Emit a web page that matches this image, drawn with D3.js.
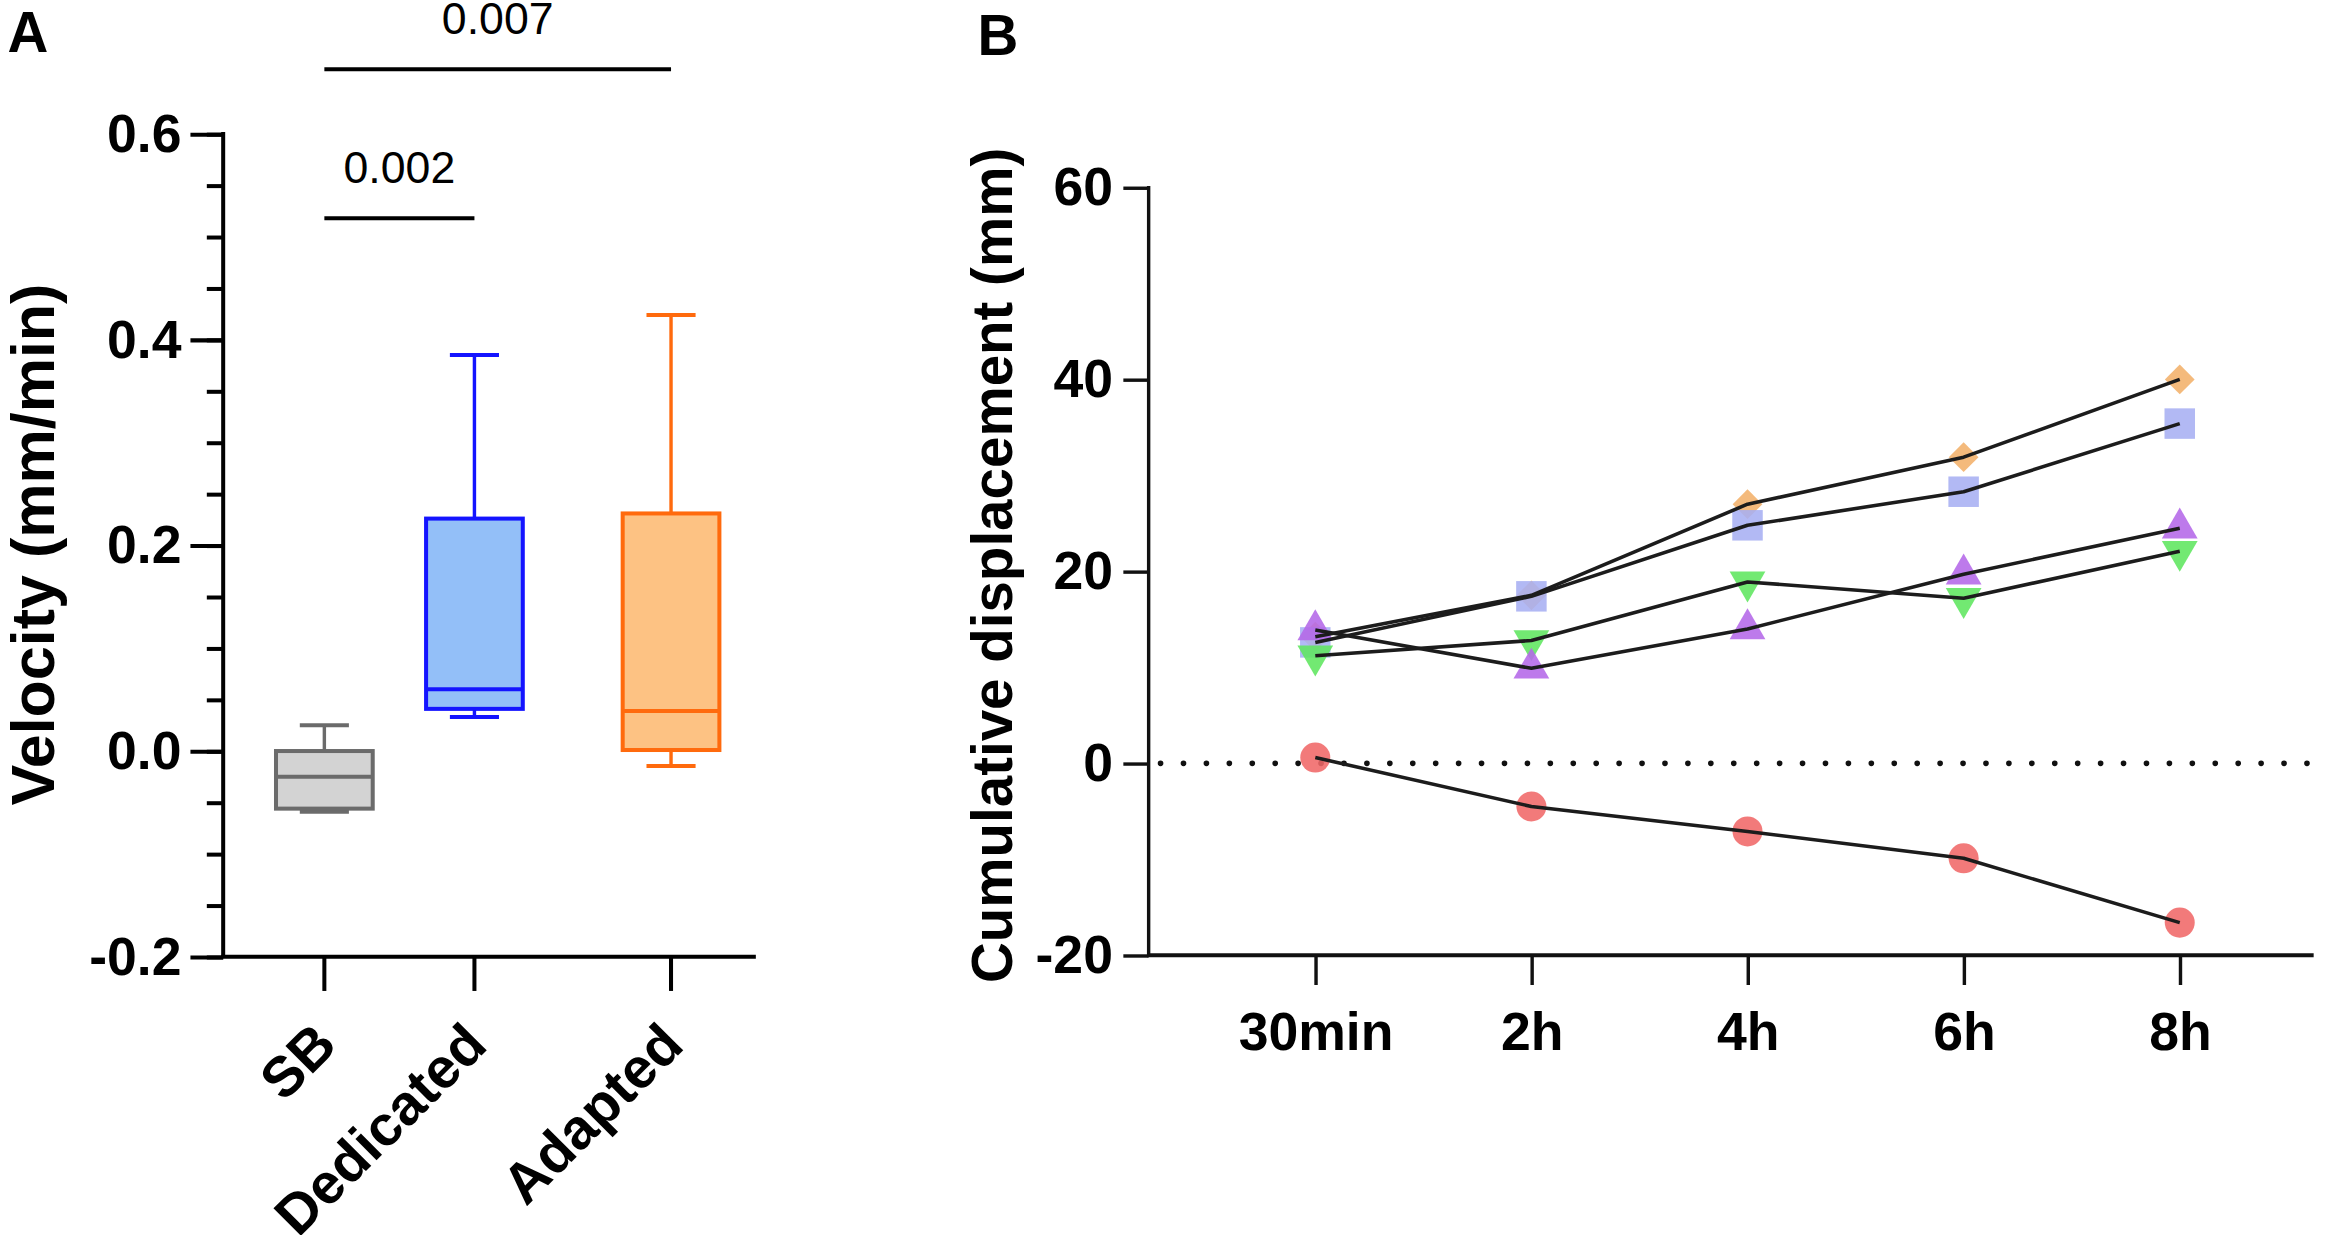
<!DOCTYPE html>
<html>
<head>
<meta charset="utf-8">
<script src="https://cdn.jsdelivr.net/npm/d3@7/dist/d3.min.js"></script>
<style>
  html, body { margin: 0; padding: 0; background: #ffffff; }
  svg { display: block; }
  text { font-family: "Liberation Sans", Arial, Helvetica, sans-serif; }
</style>
</head>
<body>
<svg id="chart" width="2333" height="1235" viewBox="0 0 1568 830"></svg>
<script>
// ---------- Panel A data (box plots) ----------
const boxCategories = ["SB", "Dedicated", "Adapted"];
const boxMin    = [-0.059, 0.033, -0.0145];
const boxQ1     = [-0.056, 0.041,  0.001];
const boxMedian = [-0.025, 0.060,  0.039];
const boxQ3     = [ 0.000, 0.226,  0.231];
const boxMax    = [ 0.025, 0.385,  0.424];
const boxFill   = ["#d3d3d3", "#93bff8", "#fdc283"];
const boxStroke = ["#6b6b6b", "#1414ff", "#ff6a0d"];
const velocityTicks = [-0.2, 0.0, 0.2, 0.4, 0.6];
const velocityMinorTicks = d3.range(-0.2, 0.6001, 0.05);

// significance comparisons
const sigFrom   = ["SB", "SB"];
const sigTo     = ["Dedicated", "Adapted"];
const sigLabel  = ["0.002", "0.007"];
const sigLevel  = [0.518, 0.663];

// ---------- Panel B data (cumulative displacement) ----------
const timePoints = ["30min", "2h", "4h", "6h", "8h"];
const seriesOrange = [13.2, 17.5, 27.0, 31.9, 40.0];
const seriesBlue   = [12.6, 17.4, 24.8, 28.3, 35.4];
const seriesGreen  = [11.2, 12.8, 18.9, 17.2, 22.1];
const seriesPurple = [13.9,  9.9, 14.0, 19.7, 24.5];
const seriesRed    = [ 0.6, -4.5, -7.1, -9.9, -16.6];
const displacementTicks = [-20, 0, 20, 40, 60];

const svg = d3.select("#chart");
const FONT = "'Liberation Sans', Arial, Helvetica, sans-serif";

// ===================== PANEL A =====================
const A = svg.append("g");
A.append("text").attr("x", 5).attr("y", 35).attr("font-size", 38)
  .attr("font-weight", "bold").text("A");

const yA = d3.scaleLinear().domain([-0.2, 0.6]).range([643, 90]);
// uneven category slots as in the original layout
const catSlot = d3.scaleOrdinal().domain(boxCategories).range([0, 1, 2.31]);
const slotX = d3.scaleLinear().domain([0, 2.31]).range([218, 451]);
const xA = c => slotX(catSlot(c));
const boxW = 65, capW = 33;

// minor ticks
A.append("g").attr("transform", "translate(150,0)")
  .call(d3.axisLeft(yA).tickValues(velocityMinorTicks).tickSize(11).tickFormat(""))
  .call(g => g.select(".domain").remove())
  .call(g => g.selectAll("line").attr("stroke", "#000").attr("stroke-width", 2.7));
// major ticks
A.append("g").attr("transform", "translate(150,0)")
  .call(d3.axisLeft(yA).tickValues(velocityTicks).tickSize(22).tickPadding(6)
    .tickFormat(d => d.toFixed(1)))
  .call(g => g.select(".domain").remove())
  .call(g => g.selectAll("line").attr("stroke", "#000").attr("stroke-width", 2.7))
  .call(g => g.selectAll("text").attr("font-size", 36).attr("font-weight", "bold")
    .attr("font-family", FONT).attr("fill", "#000"));
// y axis line
A.append("line").attr("x1", 150).attr("x2", 150).attr("y1", yA(0.6) - 1.3).attr("y2", yA(-0.2))
  .attr("stroke", "#000").attr("stroke-width", 2.7);

// x axis
const xAxisA = A.append("g").attr("transform", `translate(0,${yA(-0.2)})`);
xAxisA.append("line").attr("x1", 148.7).attr("x2", 508).attr("y1", 0).attr("y2", 0)
  .attr("stroke", "#000").attr("stroke-width", 2.7);
boxCategories.forEach(c => {
  xAxisA.append("line").attr("x1", xA(c)).attr("x2", xA(c)).attr("y1", 0).attr("y2", 23)
    .attr("stroke", "#000").attr("stroke-width", 2.7);
  xAxisA.append("text")
    .attr("transform", `translate(${xA(c) + 10},61) rotate(-45)`)
    .attr("text-anchor", "end").attr("font-size", 38).attr("font-weight", "bold")
    .text(c);
});

// y title
A.append("text").attr("transform", "translate(36,366) rotate(-90)")
  .attr("text-anchor", "middle").attr("font-size", 41).attr("font-weight", "bold")
  .text("Velocity (mm/min)");

// boxes
boxCategories.forEach((c, i) => {
  const cx = xA(c);
  const g = A.append("g");
  const sw = 2.3;
  g.append("line").attr("x1", cx).attr("x2", cx).attr("y1", yA(boxQ3[i])).attr("y2", yA(boxMax[i]))
    .attr("stroke", boxStroke[i]).attr("stroke-width", sw);
  g.append("line").attr("x1", cx).attr("x2", cx).attr("y1", yA(boxQ1[i])).attr("y2", yA(boxMin[i]))
    .attr("stroke", boxStroke[i]).attr("stroke-width", sw);
  g.append("line").attr("x1", cx - capW / 2).attr("x2", cx + capW / 2)
    .attr("y1", yA(boxMax[i])).attr("y2", yA(boxMax[i]))
    .attr("stroke", boxStroke[i]).attr("stroke-width", 2.7);
  g.append("line").attr("x1", cx - capW / 2).attr("x2", cx + capW / 2)
    .attr("y1", yA(boxMin[i])).attr("y2", yA(boxMin[i]))
    .attr("stroke", boxStroke[i]).attr("stroke-width", 2.7);
  g.append("rect").attr("x", cx - boxW / 2).attr("width", boxW)
    .attr("y", yA(boxQ3[i])).attr("height", yA(boxQ1[i]) - yA(boxQ3[i]))
    .attr("fill", boxFill[i]).attr("stroke", boxStroke[i]).attr("stroke-width", 2.7);
  g.append("line").attr("x1", cx - boxW / 2).attr("x2", cx + boxW / 2)
    .attr("y1", yA(boxMedian[i])).attr("y2", yA(boxMedian[i]))
    .attr("stroke", boxStroke[i]).attr("stroke-width", 2.7);
});

// significance bars
sigLabel.forEach((lab, i) => {
  const x1 = xA(sigFrom[i]), x2 = xA(sigTo[i]), y = yA(sigLevel[i]);
  A.append("line").attr("x1", x1).attr("x2", x2).attr("y1", y).attr("y2", y)
    .attr("stroke", "#000").attr("stroke-width", 2.7);
  A.append("text").attr("x", (x1 + x2) / 2).attr("y", y - 23.5)
    .attr("text-anchor", "middle").attr("font-size", 30).text(lab);
});

// ===================== PANEL B =====================
const B = svg.append("g");
B.append("text").attr("x", 657).attr("y", 37).attr("font-size", 38)
  .attr("font-weight", "bold").text("B");

const yB = d3.scaleLinear().domain([-20, 60]).range([642, 126]);
const xB = d3.scalePoint().domain(timePoints).range([884, 1465]);

// y axis
B.append("g").attr("transform", "translate(772,0)")
  .call(d3.axisLeft(yB).tickValues(displacementTicks).tickSize(17).tickPadding(7)
    .tickFormat(d => String(d)))
  .call(g => g.select(".domain").remove())
  .call(g => g.selectAll("line").attr("stroke", "#111").attr("stroke-width", 2.3))
  .call(g => g.selectAll("text").attr("font-size", 36).attr("font-weight", "bold")
    .attr("font-family", FONT).attr("fill", "#000"));
B.append("line").attr("x1", 772).attr("x2", 772).attr("y1", yB(60) - 1).attr("y2", yB(-20))
  .attr("stroke", "#111").attr("stroke-width", 2.3);

// x axis
B.append("g").attr("transform", `translate(0,${yB(-20)})`)
  .call(d3.axisBottom(xB).tickSize(20).tickPadding(18))
  .call(g => g.select(".domain").remove())
  .call(g => g.selectAll("line").attr("stroke", "#111").attr("stroke-width", 2.3))
  .call(g => g.selectAll("text").attr("font-size", 36).attr("font-weight", "bold")
    .attr("font-family", FONT).attr("fill", "#000"));
B.append("line").attr("x1", 771).attr("x2", 1555).attr("y1", yB(-20)).attr("y2", yB(-20))
  .attr("stroke", "#111").attr("stroke-width", 2.7);

// zero reference dotted line
B.append("line").attr("x1", 780).attr("x2", 1555).attr("y1", yB(0)).attr("y2", yB(0))
  .attr("stroke", "#111").attr("stroke-width", 3.8).attr("stroke-linecap", "round")
  .attr("stroke-dasharray", "0.01 15.4");

// y title
B.append("text").attr("transform", "translate(680,380) rotate(-90)")
  .attr("text-anchor", "middle").attr("font-size", 38).attr("font-weight", "bold")
  .text("Cumulative displacement (mm)");

// series
const series = [
  { values: seriesOrange, color: "#f3b16a", type: d3.symbolSquare, size: 200, rot: 45 },
  { values: seriesBlue,   color: "#a7aff3", type: d3.symbolSquare, size: 420, rot: 0 },
  { values: seriesGreen,  color: "#5fe65f", type: d3.symbolTriangle, size: 250, rot: 180 },
  { values: seriesPurple, color: "#b468e8", type: d3.symbolTriangle, size: 250, rot: 0 },
  { values: seriesRed,    color: "#f06868", type: d3.symbolCircle, size: 320, rot: 0 }
];
const markers = B.append("g");
series.forEach(s => {
  markers.selectAll(null).data(s.values).enter().append("path")
    .attr("d", d3.symbol().type(s.type).size(s.size))
    .attr("transform", (d, i) => `translate(${xB(timePoints[i])},${yB(d)}) rotate(${s.rot})`)
    .attr("fill", s.color).attr("fill-opacity", 0.88);
});
const lineGen = d3.line().x((d, i) => xB(timePoints[i])).y(d => yB(d));
series.forEach(s => {
  B.append("path").datum(s.values).attr("d", lineGen)
    .attr("fill", "none").attr("stroke", "#1c1c1c").attr("stroke-width", 2.4)
    .attr("stroke-linejoin", "round");
});
</script>
</body>
</html>
